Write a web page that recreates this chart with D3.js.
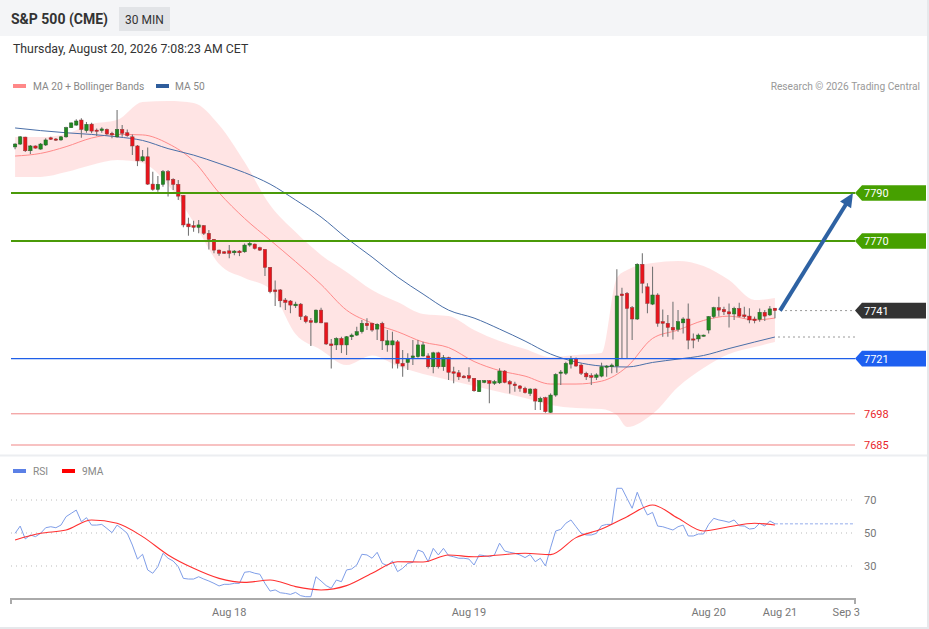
<!DOCTYPE html>
<html><head><meta charset="utf-8">
<script src="https://cdn.jsdelivr.net/npm/d3@7"></script>
<style>
body{margin:0;background:#fff;}
svg{display:block;font-family:Roboto,"Liberation Sans",Arial,sans-serif;}
</style>
</head><body>
<svg id="c" width="929" height="629"></svg>
<script>
// ---------- DATA ----------
const opens=[7809.2,7810.4,7813.3,7807.6,7809.6,7808.3,7810.0,7813.0,7812.5,7812.1,
7813.4,7817.2,7818.3,7820.4,7816.0,7818.7,7816.2,7816.0,7816.5,7814.9,
7813.4,7816.5,7815.1,7813.4,7809.6,7803.4,7805.1,7793.7,7791.5,7793.6,
7798.9,7795.7,7793.6,7789.0,7777.1,7776.4,7775.7,7776.4,7773.2,7770.7,
7766.2,7765.5,7765.9,7765.1,7765.8,7765.5,7768.3,7768.7,7767.2,7766.5,
7759.0,7749.6,7749.6,7745.4,7745.0,7743.0,7743.7,7738.5,7736.8,7736.1,
7741.2,7735.9,7727.1,7726.7,7729.4,7726.7,7730.1,7730.8,7732.2,7735.7,
7735.7,7733.3,7735.7,7726.7,7726.7,7728.0,7719.0,7719.4,7721.4,7721.8,
7722.1,7722.1,7717.6,7723.4,7717.6,7721.4,7715.5,7715.1,7713.7,7713.9,
7712.8,7707.2,7711.1,7711.8,7710.7,7710.9,7715.8,7711.4,7710.4,7709.6,
7708.6,7706.5,7708.3,7703.0,7704.7,7698.6,7705.8,7714.9,7714.9,7718.7,
7721.1,7718.3,7714.9,7713.9,7713.2,7713.7,7717.4,7717.6,7717.9,7747.9,
7748.2,7742.2,7737.5,7760.3,7750.9,7743.7,7747.5,7736.4,7735.7,7734.0,
7733.2,7735.9,7737.5,7729.2,7729.2,7730.4,7732.9,7738.5,7742.2,7741.5,
7740.5,7739.6,7741.9,7739.2,7738.7,7737.5,7737.4,7740.3,7739.2,7742.0];
const highs=[7810.7,7813.7,7813.4,7810.0,7809.8,7810.8,7812.8,7813.4,7812.9,7813.7,
7817.6,7819.4,7820.7,7821.1,7819.6,7819.3,7816.9,7817.4,7816.9,7815.5,
7824.6,7818.3,7816.5,7814.4,7810.0,7807.9,7809.0,7798.9,7797.1,7799.6,
7799.6,7796.1,7795.4,7789.1,7779.7,7778.4,7778.7,7776.7,7774.6,7770.8,
7766.5,7765.8,7768.3,7766.2,7766.2,7769.0,7770.4,7769.0,7767.6,7766.7,
7759.2,7753.5,7750.0,7746.2,7745.4,7744.7,7744.2,7739.2,7737.9,7741.5,
7742.2,7735.9,7729.2,7729.9,7730.1,7730.4,7731.5,7734.3,7737.1,7737.8,
7735.9,7735.7,7736.4,7732.9,7732.2,7728.7,7724.6,7723.2,7728.7,7728.7,
7728.0,7723.2,7723.9,7723.9,7722.5,7721.8,7717.6,7716.2,7714.2,7717.4,
7712.8,7712.1,7712.1,7712.1,7712.1,7717.0,7716.2,7712.1,7711.4,7710.0,
7709.3,7708.6,7708.6,7705.1,7705.1,7706.5,7714.9,7716.2,7719.7,7722.1,
7721.5,7719.0,7715.5,7714.9,7714.9,7719.3,7718.3,7719.0,7758.2,7750.5,
7748.7,7742.9,7760.7,7764.9,7752.4,7759.3,7748.2,7741.5,7739.2,7744.7,
7741.2,7738.2,7744.0,7731.5,7731.5,7731.0,7738.7,7742.6,7746.8,7742.6,
7744.0,7742.6,7744.3,7742.6,7742.0,7738.5,7741.9,7741.2,7742.9,7742.1];
const lows=[7808.2,7810.0,7807.1,7806.2,7808.5,7808.0,7809.6,7812.1,7811.7,7811.8,
7813.0,7817.2,7818.0,7813.0,7815.1,7814.9,7813.7,7815.1,7814.2,7812.8,
7813.0,7813.4,7813.4,7805.8,7801.2,7803.0,7793.3,7790.9,7790.5,7792.6,
7788.5,7791.2,7787.1,7775.7,7772.2,7773.9,7773.2,7772.5,7766.5,7764.9,
7763.9,7764.6,7762.8,7764.1,7763.7,7765.1,7767.6,7766.5,7765.8,7755.4,
7748.2,7742.9,7742.4,7741.2,7739.9,7742.1,7737.1,7735.7,7726.2,7735.7,
7735.7,7726.7,7716.9,7724.6,7723.3,7722.5,7728.7,7730.4,7731.5,7732.9,
7732.2,7728.7,7724.6,7723.9,7716.9,7716.9,7713.4,7716.2,7718.3,7721.4,
7721.8,7716.9,7714.9,7716.9,7715.9,7712.1,7710.7,7712.1,7712.8,7711.4,
7707.2,7707.2,7710.7,7702.4,7710.0,7710.4,7710.7,7706.5,7707.2,7707.2,
7706.5,7705.4,7699.6,7699.6,7698.4,7698.4,7705.1,7710.0,7714.2,7716.9,
7717.6,7714.2,7712.1,7710.0,7712.1,7713.2,7713.4,7714.9,7715.1,7721.1,
7721.1,7728.7,7737.1,7748.2,7739.9,7743.3,7734.3,7730.1,7730.1,7729.0,
7732.2,7731.5,7724.9,7725.3,7728.0,7730.2,7731.5,7737.8,7738.5,7739.2,
7734.0,7737.1,7738.2,7737.8,7735.7,7735.7,7736.4,7736.7,7738.7,7737.8];
const closes=[7810.4,7813.4,7807.6,7809.6,7808.7,7810.4,7812.1,7812.4,7812.1,7813.4,
7817.2,7819.2,7820.0,7816.5,7818.6,7815.8,7815.7,7816.7,7814.6,7814.2,
7816.5,7814.9,7813.9,7809.6,7803.4,7805.1,7793.7,7791.5,7793.6,7798.9,
7795.4,7793.6,7788.7,7776.7,7775.9,7775.7,7776.7,7773.2,7770.7,7766.2,
7764.9,7764.9,7764.9,7765.8,7765.1,7768.3,7769.0,7766.9,7766.2,7759.0,
7748.9,7748.9,7745.1,7744.4,7743.3,7743.7,7738.5,7736.4,7736.1,7741.2,
7735.9,7727.1,7726.4,7729.4,7726.7,7730.1,7730.8,7732.2,7735.7,7734.7,
7732.9,7735.3,7728.4,7728.4,7728.4,7719.0,7717.9,7721.1,7722.1,7726.7,
7726.7,7717.6,7723.4,7717.6,7721.4,7715.3,7714.9,7713.4,7713.0,7712.8,
7707.6,7711.8,7711.8,7710.7,7711.4,7715.8,7711.1,7710.4,7709.7,7708.6,
7706.8,7708.3,7703.3,7704.4,7698.9,7705.8,7714.4,7715.4,7719.0,7721.1,
7717.9,7714.9,7713.4,7713.2,7714.2,7717.6,7717.9,7718.3,7747.1,7747.2,
7741.9,7737.5,7760.3,7752.4,7744.0,7747.5,7735.7,7735.7,7734.0,7732.9,
7736.4,7737.5,7728.7,7728.7,7730.8,7730.8,7738.5,7742.2,7741.2,7740.5,
7739.6,7741.9,7738.7,7738.5,7737.1,7736.8,7740.3,7738.7,7741.7,7741.0];

// moving averages read at every 5th candle (candle index, 0-based)
const indIdx=[0,5,10,15,20,25,30,35,40,45,50,55,60,65,70,75,80,85,90,95,100,105,110,115,120,125,130,135,140,145,149];
const ma20=[7805.4,7806.5,7809.3,7812.9,7814.4,7814.2,7810.6,7803.3,7790.1,7779.4,7770.4,7761.4,7751.9,7741.2,7735.8,7732.2,7727.9,7725.6,7719.8,7716.0,7713.7,7710.4,7710.4,7711.6,7717.6,7729.4,7732.9,7736.9,7738.7,7737.1,7737.9];
const ma50=[7817.1,7816.0,7815.1,7814.4,7813.4,7811.9,7808.5,7805.8,7802.3,7798.5,7793.7,7787.1,7780.0,7771.2,7763.3,7755.0,7747.9,7741.2,7737.9,7733.3,7728.3,7722.9,7719.6,7717.9,7717.5,7719.4,7720.8,7722.3,7725.2,7727.9,7730.0];
// Bollinger bands read at candle indices
const bandIdx=[0,5,10,15,20,25,30,35,40,45,50,55,60,65,70,75,80,85,90,95,100,105,110,115,118,120,125,130,135,140,145,149];
const bbUpper=[7813.3,7813.3,7814.6,7818.7,7820.4,7827.9,7828.3,7827.5,7818.3,7802.9,7785.0,7773.7,7764.2,7757.1,7749.6,7744.6,7739.6,7738.7,7732.9,7728.3,7725.0,7721.6,7722.5,7723.3,7754.6,7757.9,7760.8,7761.7,7759.6,7753.7,7745.4,7746.2];
const bbLower=[7796.7,7796.7,7798.7,7801.7,7803.7,7802.5,7793.3,7777.9,7760.4,7754.6,7750.0,7731.2,7724.6,7718.3,7722.3,7717.9,7714.6,7712.1,7709.6,7707.1,7704.6,7701.7,7700.4,7700.0,7697.5,7692.5,7697.9,7709.2,7717.1,7722.9,7725.8,7727.9];

const rsi=[49.8,54.2,46.4,48.8,47.8,49.8,53.2,53.8,53.2,54.8,
59.9,61.9,63.9,56.8,59.3,54.8,54.8,55.2,52.8,50.2,
54.8,52.4,49.8,42.7,34.2,37.1,27.6,25.6,29.6,37.7,
34.7,33.0,29.6,22.5,22.1,22.1,23.5,22.1,20.9,19.5,
17.9,18.9,18.9,19.5,19.5,26.2,26.6,25.6,25.0,19.5,
14.8,15.5,13.8,13.4,12.8,14.0,12.0,11.4,11.4,23.5,
20.9,18.1,16.5,21.5,20.5,27.6,28.2,30.6,37.1,36.7,
34.7,38.3,31.6,30.2,33.0,26.6,28.6,31.6,32.2,39.7,
38.5,32.6,40.7,36.7,40.7,36.3,35.6,34.7,34.7,34.2,
30.6,36.7,36.3,35.6,36.7,43.8,39.1,38.3,37.7,36.7,
35.1,36.9,32.6,34.7,30.0,41.0,51.2,52.2,55.9,57.9,
53.8,49.8,48.8,48.8,49.8,54.4,55.2,55.2,77.1,77.1,
71.0,65.0,74.7,67.0,60.9,62.5,54.2,53.8,52.8,51.8,
53.8,54.8,48.2,48.2,49.4,49.4,55.2,58.9,57.9,57.3,
56.5,57.9,54.4,54.2,52.4,52.8,55.9,54.2,57.3,55.6];
const rsiMA=[45.8,49.8,51.8,57.9,55.9,47.8,36.7,28.6,22.5,20.1,21.5,17.5,15.5,18.1,25.6,32.6,32.4,36.7,35.6,36.7,37.7,36.9,47.2,52.4,59.9,67.0,58.9,51.2,53.8,55.9,54.8];

const resistances=[7790,7770];
const pivot=7721;
const supports=[7698,7685];
const lastPrice=7741;
const target=7790;
const rsiLevels=[70,50,30];
const xTickLabels=["Aug 18","Aug 19","Aug 20","Aug 21","Sep 3"];
const xTickIdx=[42,89,136,150,163];

// ---------- SCALES ----------
const svg=d3.select("#c");
const x=d3.scaleLinear().domain([-0.8,164.7]).range([11,855]);
const y=d3.scaleLinear().domain([7790,7685]).range([193,445]);
const yr=d3.scaleLinear().domain([70,30]).range([500,566]);

// ---------- FRAME ----------
svg.append("rect").attr("x",0).attr("y",0).attr("width",929).attr("height",36).attr("fill","#f4f5f7");
svg.append("rect").attr("x",119).attr("y",7).attr("width",51).attr("height",24).attr("fill","#e2e4e7");
svg.append("text").attr("x",11).attr("y",24).attr("font-size",14).attr("font-weight","bold").attr("fill","#333").text("S&P 500 (CME)");
svg.append("text").attr("x",125).attr("y",23.5).attr("font-size",12).attr("fill","#333").text("30 MIN");
svg.append("text").attr("x",13).attr("y",53).attr("font-size",12.3).attr("fill","#333").text("Thursday, August 20, 2026 7:08:23 AM CET");
svg.append("line").attr("x1",0).attr("x2",929).attr("y1",455.5).attr("y2",455.5).attr("stroke","#eceef1").attr("stroke-width",2);
svg.append("line").attr("x1",928).attr("x2",928).attr("y1",0).attr("y2",629).attr("stroke","#e6e8eb").attr("stroke-width",2);
svg.append("line").attr("x1",0).attr("x2",929).attr("y1",628).attr("y2",628).attr("stroke","#e6e8eb").attr("stroke-width",2);

// legend
svg.append("rect").attr("x",13).attr("y",84).attr("width",13).attr("height",4).attr("fill","#f88");
svg.append("text").attr("x",33).attr("y",90).attr("font-size",10.2).attr("fill","#888").text("MA 20 + Bollinger Bands");
svg.append("rect").attr("x",156).attr("y",84).attr("width",13).attr("height",4).attr("fill","#2f5d9c");
svg.append("text").attr("x",175).attr("y",90).attr("font-size",10.2).attr("fill","#888").text("MA 50");
svg.append("text").attr("x",920).attr("y",90).attr("text-anchor","end").attr("font-size",10.2).attr("fill","#999").text("Research © 2026 Trading Central");

// ---------- PRICE PANE ----------
const band=bandIdx.map((d,i)=>({i:d,up:bbUpper[i],lo:bbLower[i]}));
const ind=indIdx.map((d,i)=>({i:d,m20:ma20[i],m50:ma50[i]}));
svg.append("path").datum(band).attr("fill","#ffe3e3").attr("opacity",0.95)
  .attr("d",d3.area().x(d=>x(d.i)).y0(d=>y(d.lo)).y1(d=>y(d.up)).curve(d3.curveMonotoneX));
svg.append("path").datum(ind).attr("fill","none").attr("stroke","#ff8a8a").attr("stroke-width",1)
  .attr("d",d3.line().x(d=>x(d.i)).y(d=>y(d.m20)).curve(d3.curveMonotoneX));
svg.append("path").datum(ind).attr("fill","none").attr("stroke","#4a6fa8").attr("stroke-width",1)
  .attr("d",d3.line().x(d=>x(d.i)).y(d=>y(d.m50)).curve(d3.curveMonotoneX));

// candles
const candles=opens.map((o,i)=>({i,o,h:highs[i],l:lows[i],c:closes[i]}));
const cg=svg.append("g");
cg.selectAll("line.w").data(candles).join("line")
  .attr("x1",d=>x(d.i)).attr("x2",d=>x(d.i)).attr("y1",d=>y(d.h)).attr("y2",d=>y(d.l))
  .attr("stroke","#777").attr("stroke-width",1.1);
cg.selectAll("rect.b").data(candles).join("rect")
  .attr("x",d=>x(d.i)-1.7).attr("width",3.4)
  .attr("y",d=>y(Math.max(d.o,d.c)))
  .attr("height",d=>Math.max(1.2,Math.abs(y(d.o)-y(d.c))))
  .attr("fill",d=>d.c>=d.o?"#1f8a1f":"#e8141c")
  .attr("stroke",d=>d.c>=d.o?"#2b5a2b":"#8a3a3a").attr("stroke-width",0.5);

// level lines
resistances.forEach(v=>{
  svg.append("line").attr("x1",11).attr("x2",855).attr("y1",y(v)).attr("y2",y(v)).attr("stroke","#4a9a08").attr("stroke-width",2);
});
svg.append("line").attr("x1",11).attr("x2",855).attr("y1",y(pivot)).attr("y2",y(pivot)).attr("stroke","#1f5fe8").attr("stroke-width",1.3);
supports.forEach(v=>{
  svg.append("line").attr("x1",11).attr("x2",855).attr("y1",y(v)).attr("y2",y(v)).attr("stroke","#f08585").attr("stroke-width",1);
});

// dotted projections
const lastI=closes.length-1;
svg.append("line").attr("x1",x(lastI+1)).attr("x2",855).attr("y1",y(lastPrice)).attr("y2",y(lastPrice))
  .attr("stroke","#999").attr("stroke-dasharray","2,3");
svg.append("line").attr("x1",x(lastI+0.6)).attr("x2",855).attr("y1",y(ma50[ma50.length-1])).attr("y2",y(ma50[ma50.length-1]))
  .attr("stroke","#999").attr("stroke-dasharray","2,3");

// arrow
const ax0=x(lastI+1), ay0=y(lastPrice), ax1=x(164.3), ay1=y(target);
const ang=Math.atan2(ay1-ay0,ax1-ax0);
const headL=14, headW=6.5;
const bx=ax1-headL*Math.cos(ang), by=ay1-headL*Math.sin(ang);
svg.append("line").attr("x1",ax0).attr("y1",ay0).attr("x2",bx+2*Math.cos(ang)).attr("y2",by+2*Math.sin(ang))
  .attr("stroke","#2e62a3").attr("stroke-width",4);
svg.append("path").attr("fill","#2e62a3")
  .attr("d",`M${ax1},${ay1}L${bx+headW*Math.sin(ang)},${by-headW*Math.cos(ang)}L${bx-headW*Math.sin(ang)},${by+headW*Math.cos(ang)}Z`);

// tags
function tag(v,col){
  const yy=y(v);
  svg.append("path").attr("fill",col)
    .attr("d",`M855,${yy}L862,${yy-7.8}L926,${yy-7.8}L926,${yy+7.8}L862,${yy+7.8}Z`);
  svg.append("text").attr("x",864).attr("y",yy+4).attr("font-size",11).attr("fill","#fff").text(v);
}
resistances.forEach(v=>tag(v,"#46a000"));
tag(lastPrice,"#333333");
tag(pivot,"#1d5ff0");
supports.forEach(v=>{
  svg.append("text").attr("x",864).attr("y",y(v)+4).attr("font-size",11).attr("fill","#e8262b").text(v);
});

// ---------- RSI PANE ----------
svg.append("rect").attr("x",13).attr("y",469).attr("width",13).attr("height",4).attr("fill","#5b80e6");
svg.append("text").attr("x",33).attr("y",475).attr("font-size",10.2).attr("fill","#888").text("RSI");
svg.append("rect").attr("x",62).attr("y",469).attr("width",13).attr("height",4).attr("fill","#f00");
svg.append("text").attr("x",82).attr("y",475).attr("font-size",10.2).attr("fill","#888").text("9MA");

rsiLevels.forEach(v=>{
  svg.append("line").attr("x1",11).attr("x2",855).attr("y1",yr(v)).attr("y2",yr(v))
    .attr("stroke","#bbb").attr("stroke-dasharray","1,4");
  svg.append("text").attr("x",864).attr("y",yr(v)+4).attr("font-size",11).attr("fill","#777").text(v);
});
svg.append("line").attr("x1",x(lastI)).attr("x2",855).attr("y1",yr(rsi[lastI])).attr("y2",yr(rsi[lastI]))
  .attr("stroke","#b8c8f2").attr("stroke-width",1.5).attr("stroke-dasharray","3,2");
svg.append("path").datum(rsi).attr("fill","none").attr("stroke","#7f9ee8").attr("stroke-width",1)
  .attr("d",d3.line().x((d,i)=>x(i)).y(d=>yr(d)));
svg.append("path").datum(rsiMA).attr("fill","none").attr("stroke","#ff3030").attr("stroke-width",1.1)
  .attr("d",d3.line().x((d,i)=>x(indIdx[i])).y(d=>yr(d)).curve(d3.curveMonotoneX));

// x axis
const axisY=599;
svg.append("path").attr("fill","none").attr("stroke","#aaa").attr("stroke-width",2)
  .attr("d",`M11,${axisY+5}L11,${axisY}L855,${axisY}L855,${axisY+5}`);
xTickIdx.forEach((t,k)=>{
  svg.append("text").attr("x",x(t)).attr("y",616).attr("text-anchor","middle")
    .attr("font-size",11).attr("fill","#777").text(xTickLabels[k]);
});
</script>
</body></html>
